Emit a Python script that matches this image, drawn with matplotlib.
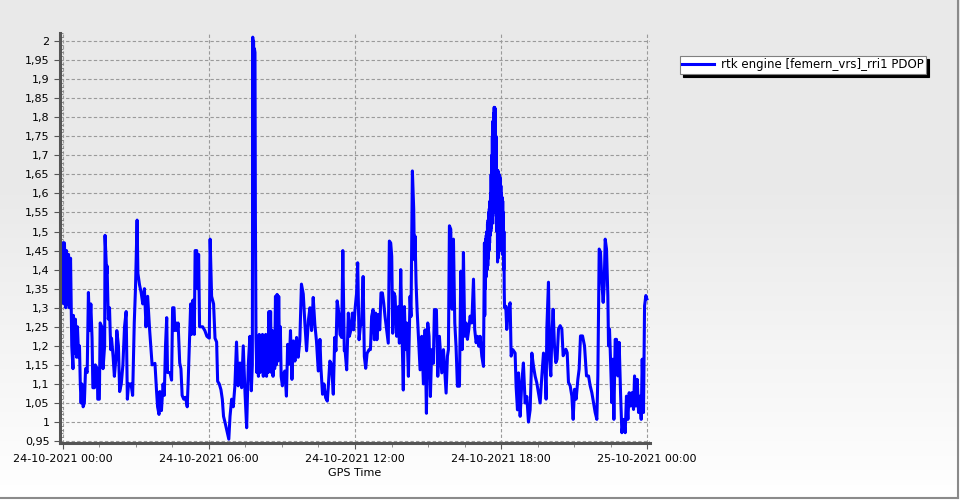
import numpy as np
import pandas as pd
import matplotlib
matplotlib.use('Agg')
from matplotlib import pyplot as plt
import matplotlib.dates as mdates
from matplotlib import ticker
from matplotlib.lines import Line2D

# PDOP of the rtk engine, minutes after 24-10-2021 00:00 (GPS time)
start = '2021-10-24 00:00'
series_name = 'rtk engine [femern_vrs]_rri1 PDOP'

minutes = [
    0, 2.5, 4, 7, 9, 11, 14, 16, 19, 21, 22, 25, 26, 29, 31, 34, 36, 39, 41, 43,
    45, 47, 50, 53, 56, 60, 63, 66, 69, 72, 74, 78, 80, 85, 86, 90, 92, 96, 99, 103,
    104, 108, 109, 112, 115, 118, 120, 124, 127, 131, 133, 137, 140, 144, 148, 152, 156, 159, 162, 168,
    172, 176, 179, 183, 185, 189, 193, 197, 201, 205, 209, 214, 220,
    227, 231, 233.5, 237, 239, 243, 247, 250, 253, 256, 258, 264, 268, 270.5, 274, 276, 279, 282, 284, 288,
    291, 294, 298, 302.5, 306.5, 309, 312, 315, 317, 320.6, 324, 326, 330, 332, 334.6, 337, 340, 344.5, 350, 355,
    361, 363, 366.6, 371.5, 375, 379, 381.5, 385.5, 389.6, 393, 396, 399.5, 403.6, 409, 412, 416, 420, 424, 428, 432,
    436.5, 440.6, 444.6, 449, 453, 457, 461,
    463, 464.5, 467, 468, 469, 470, 471, 472, 473.5, 474.5, 476,
    478, 480, 482, 484, 486, 488, 490, 492, 494, 496, 498, 500, 502, 504, 506, 508, 510, 512, 514, 516,
    518, 520, 522, 524, 526, 528, 530, 532, 534, 536, 538,
    541, 543, 547, 551, 554, 558, 561, 564.6, 568, 572, 576, 580, 584, 588, 592.5, 596.6, 600.7, 605, 609, 613,
    617, 621, 625, 629.5, 633.6, 636, 640, 643.5, 647.6, 651.7, 654, 658, 662, 666.5, 670, 673, 676, 680.5, 683, 687,
    690, 693.6,
    695.4, 699.5, 703.6, 706, 710, 713.5, 716.8, 720, 724, 726.6, 730, 733, 736.5, 740, 743, 746.4, 749.7, 754.6, 758, 761,
    764.5, 767.7, 771, 774, 777.6, 781, 784, 787.5, 790.8, 794, 798, 802, 804.7, 808, 810.5, 813, 816, 818.7, 822.8, 827,
    829.4, 832.7, 835, 839, 841.7, 845, 847.5, 851.6, 855.7, 858, 861.4, 864.7, 866.4, 868, 870.5, 873, 876.2, 880.4, 884.5, 888.6,
    892.7, 896, 899.3, 902.5, 905.8, 909, 913, 915.7, 920.6, 924, 928,
    933.8, 938, 944.5, 947.8, 950.2, 952.7, 956, 959.3, 962.6, 965.9, 969, 972.4, 977.4, 980.7, 984, 987.2, 990.5, 993.8, 997, 1000.4,
    1003.7, 1007.8, 1012, 1015, 1018.5, 1021.8, 1025, 1028.3, 1032.5, 1036.6,
    1039, 1039.75, 1040.5, 1041.25, 1042, 1042.75, 1043.5, 1044.25, 1045, 1045.75, 1046.5, 1047.25, 1048, 1048.75, 1049.5, 1050.25,
    1051, 1051.75, 1052.5, 1053.25, 1054, 1054.75, 1055.5, 1056.25, 1057, 1057.75, 1058.5, 1059.25, 1060, 1060.75, 1061.5, 1062.25,
    1063, 1063.75, 1064.5, 1065.25, 1066, 1066.75, 1067.5, 1068.25, 1069, 1069.75, 1070.5, 1071.25, 1072, 1072.75, 1073.5, 1074.25,
    1075, 1075.75, 1076.5, 1077.25, 1078, 1078.75, 1079.5, 1080.25, 1081, 1081.75, 1082.5, 1083.25, 1084, 1084.75, 1085.5, 1086.25,
    1087, 1087.75, 1088.5,
    1091.6, 1094, 1098, 1102.3, 1104.8, 1109, 1114.6, 1117, 1120.4, 1123, 1127, 1131, 1135, 1139.3, 1143.4, 1147.5, 1151.6, 1155.8, 1159.9, 1164,
    1168, 1172.2, 1176.3, 1180.4, 1184.5,
    1188.6, 1191, 1192.7, 1196.8, 1199.3, 1202.6, 1205, 1208.3, 1211.6, 1214.9, 1218, 1221.5, 1225.6, 1229.7, 1233, 1236.3, 1239.6, 1242.9, 1246.1, 1250.3,
    1254.4, 1257.6, 1261, 1265, 1269.2, 1272.4, 1275.7, 1280.7, 1285.6, 1290.5, 1295.5, 1299.6, 1303.7, 1307.8, 1311.9, 1316, 1318.5, 1321.8, 1325, 1328.3,
    1331.6, 1334, 1336.6, 1339.8, 1343.1, 1344.8, 1347.2, 1349.7, 1353, 1355.5, 1358, 1361.2, 1364.5, 1367.8, 1371, 1374.4, 1377.7, 1381.8, 1385.9, 1389,
    1392.5, 1395.7, 1399, 1402.3, 1406.4, 1408.9, 1412.2, 1415.5, 1418.8, 1422, 1425.3, 1427.8, 1431, 1433.6, 1436.8, 1439.3,
]

pdop = [
    1.47, 1.31, 1.47, 1.30, 1.45, 1.31, 1.44, 1.30, 1.43, 1.28, 1.20, 1.14, 1.28, 1.18, 1.27, 1.17, 1.25, 1.17, 1.20, 1.10,
    1.05, 1.10, 1.04, 1.05, 1.14, 1.13, 1.34, 1.24, 1.31, 1.22, 1.09, 1.09, 1.15, 1.14, 1.06, 1.06, 1.26, 1.25, 1.14, 1.20,
    1.49, 1.39, 1.41, 1.27, 1.30, 1.19, 1.22, 1.17, 1.12, 1.17, 1.24, 1.20, 1.08, 1.10, 1.15, 1.25, 1.29, 1.06, 1.10, 1.10,
    1.07, 1.26, 1.35, 1.53, 1.39, 1.36, 1.34, 1.31, 1.35, 1.25, 1.33, 1.24, 1.15,
    1.154, 1.08, 1.04, 1.02, 1.08, 1.03, 1.10, 1.07, 1.20, 1.274, 1.13, 1.13, 1.11, 1.30, 1.30, 1.24, 1.26, 1.24, 1.26, 1.155,
    1.14, 1.07, 1.06, 1.065, 1.04, 1.11, 1.21, 1.31, 1.23, 1.32, 1.23, 1.45, 1.45, 1.35, 1.44, 1.25, 1.25, 1.25, 1.24, 1.225,
    1.22, 1.48, 1.33, 1.31, 1.22, 1.21, 1.107, 1.10, 1.085, 1.06, 1.015, 1.0, 0.98, 0.955, 1.015, 1.06, 1.04, 1.095, 1.21, 1.095,
    1.155, 1.09, 1.2, 1.075, 0.985, 1.15, 1.225,
    1.125, 1.082, 1.15, 2.01, 1.56, 2.0, 1.55, 1.98, 1.97, 1.55, 1.22,
    1.13, 1.22, 1.12, 1.23, 1.13, 1.22, 1.14, 1.23, 1.12, 1.21, 1.14, 1.23, 1.12, 1.22, 1.13, 1.29, 1.15, 1.29, 1.13, 1.24,
    1.12, 1.22, 1.14, 1.33, 1.15, 1.335, 1.16, 1.33, 1.17, 1.25, 1.12,
    1.095, 1.125, 1.134, 1.068, 1.204, 1.152, 1.24, 1.112, 1.213, 1.16, 1.222, 1.17, 1.213, 1.362, 1.336, 1.257, 1.187, 1.266, 1.30, 1.24,
    1.327, 1.257, 1.213, 1.134, 1.217, 1.143, 1.073, 1.10, 1.064, 1.055, 1.09, 1.16, 1.152, 1.073, 1.222, 1.187, 1.318, 1.283, 1.23, 1.222,
    1.45, 1.187,
    1.19, 1.137, 1.286, 1.225, 1.242, 1.286, 1.242, 1.295, 1.339, 1.418, 1.216, 1.25, 1.26, 1.382, 1.172, 1.141, 1.18, 1.19, 1.19, 1.277,
    1.295, 1.216, 1.286, 1.216, 1.282, 1.242, 1.339, 1.339, 1.312, 1.277, 1.242, 1.207, 1.475, 1.47, 1.435, 1.233, 1.339, 1.33, 1.225, 1.303,
    1.207, 1.40, 1.277, 1.084, 1.303, 1.19, 1.26, 1.12, 1.33, 1.277, 1.659, 1.558, 1.426, 1.488, 1.365, 1.295, 1.225, 1.137, 1.225, 1.10,
    1.242, 1.023, 1.26, 1.225, 1.067, 1.19, 1.154, 1.295, 1.295, 1.12, 1.225,
    1.129, 1.19, 1.076, 1.173, 1.19, 1.515, 1.506, 1.296, 1.48, 1.26, 1.199, 1.094, 1.094, 1.396, 1.19, 1.445, 1.225, 1.26, 1.217, 1.243,
    1.278, 1.26, 1.375, 1.243, 1.208, 1.225, 1.199, 1.225, 1.173, 1.146,
    1.47, 1.28, 1.47, 1.35, 1.48, 1.38, 1.49, 1.40, 1.50, 1.40, 1.52, 1.41, 1.53, 1.43, 1.55, 1.45,
    1.56, 1.47, 1.58, 1.49, 1.60, 1.50, 1.65, 1.51, 1.70, 1.52, 1.75, 1.54, 1.79, 1.55, 1.81, 1.57,
    1.826, 1.58, 1.825, 1.58, 1.82, 1.57, 1.75, 1.52, 1.66, 1.50, 1.66, 1.42, 1.66, 1.43, 1.655, 1.47,
    1.65, 1.48, 1.645, 1.47, 1.64, 1.46, 1.62, 1.45, 1.60, 1.45, 1.59, 1.44, 1.58, 1.44, 1.55, 1.40,
    1.50, 1.35, 1.30,
    1.304, 1.243, 1.296, 1.313, 1.173, 1.19, 1.181, 1.094, 1.032, 1.129, 1.015, 1.103, 1.155, 1.05, 1.067, 1.0, 1.032, 1.181, 1.146, 1.12,
    1.103, 1.076, 1.05, 1.12, 1.181,
    1.13, 1.06, 1.244, 1.367, 1.165, 1.121, 1.226, 1.296, 1.2, 1.156, 1.165, 1.244, 1.253, 1.244, 1.174, 1.182, 1.191, 1.182, 1.104, 1.095,
    1.068, 1.007, 1.086, 1.06, 1.112, 1.139, 1.226, 1.226, 1.2, 1.121, 1.121, 1.095, 1.077, 1.051, 1.025, 1.007, 1.121, 1.454, 1.446, 1.367,
    1.314, 1.358, 1.48, 1.454, 1.332, 1.2, 1.244, 1.165, 1.051, 1.165, 1.007, 1.217, 1.217, 1.121, 1.209, 1.077, 0.972, 1.007, 0.972, 1.068,
    1.007, 1.077, 1.042, 1.077, 1.033, 1.121, 1.042, 1.112, 1.025, 1.068, 1.007, 1.165, 1.025, 1.305, 1.332, 1.323,
]

t0 = pd.Timestamp(start)
times = t0 + pd.to_timedelta(minutes, unit='min')

plt.rcParams['font.family'] = ['DejaVu Sans']
fig = plt.figure(figsize=(9.6, 5.0), dpi=100)

# background gradient (grey at top to white at bottom)
bg = fig.add_axes([0, 0, 1, 1], zorder=-10)
rows = np.linspace(0, 1, 500)
shade = np.where(rows < 0.36, 233, 233 + (rows - 0.36) / 0.64 * 22) / 255.
bg.imshow(np.dstack([shade, shade, shade]).reshape(500, 1, 3), aspect='auto', extent=[0, 1, 0, 1])
bg.set_xlim(0, 1); bg.set_ylim(0, 1)
bg.axis('off')

ax = fig.add_axes([60/960, 1-443/500, 590/960, 410/500])
ax.set_facecolor('none')
ax.plot(times, pdop, color='#0000ff', lw=2.2, solid_joinstyle='round', label=series_name)

ax.set_xlim(t0 - pd.Timedelta(minutes=7), t0 + pd.Timedelta(minutes=1447))
ax.set_ylim(0.945, 2.021)

ax.xaxis.set_major_locator(ticker.MultipleLocator(0.25))
ax.xaxis.set_minor_locator(ticker.MultipleLocator(1.5/24))
ax.xaxis.set_major_formatter(mdates.DateFormatter('%d-%m-%Y %H:%M'))
ax.yaxis.set_major_locator(ticker.MultipleLocator(0.05))
ax.yaxis.set_minor_locator(ticker.MultipleLocator(0.01))
ax.yaxis.set_major_formatter(ticker.FuncFormatter(lambda v, p: ('%g' % round(v, 2)).replace('.', ',')))

ax.grid(True, which='major', color='#9a9a9a', linestyle=(0, (3, 2)), lw=0.8)
for s in ['top', 'right']:
    ax.spines[s].set_visible(False)
for s in ['left', 'bottom']:
    ax.spines[s].set_color('#555555')
    ax.spines[s].set_linewidth(2.2)

ax.tick_params(axis='both', which='major', labelsize=8, color='#555555', length=4, width=0.8)
ax.tick_params(axis='y', which='minor', length=2, color='#777777', direction='in')
ax.tick_params(axis='x', which='minor', length=3, color='#777777')
ax.tick_params(axis='x', pad=4)

ax.set_xlabel('GPS Time', fontsize=8, labelpad=3)

leg = ax.legend(loc='upper left', bbox_to_anchor=(680/960, 1-56/500), bbox_transform=fig.transFigure,
                fontsize=8.5, fancybox=False, framealpha=1, edgecolor='#808080',
                shadow={'color': 'black', 'alpha': 1}, borderpad=0.2, handlelength=2.7,
                handletextpad=0.6, borderaxespad=0)
leg.get_frame().set_linewidth(0.8)

# outer frame lines on right and bottom edge
fig.add_artist(Line2D([958/960, 958/960], [0.004, 1], transform=fig.transFigure, color='#8a8a8a', lw=1.5))
fig.add_artist(Line2D([0, 958/960], [0.004, 0.004], transform=fig.transFigure, color='#8a8a8a', lw=1.5))

fig.savefig('out.png', dpi=100)
